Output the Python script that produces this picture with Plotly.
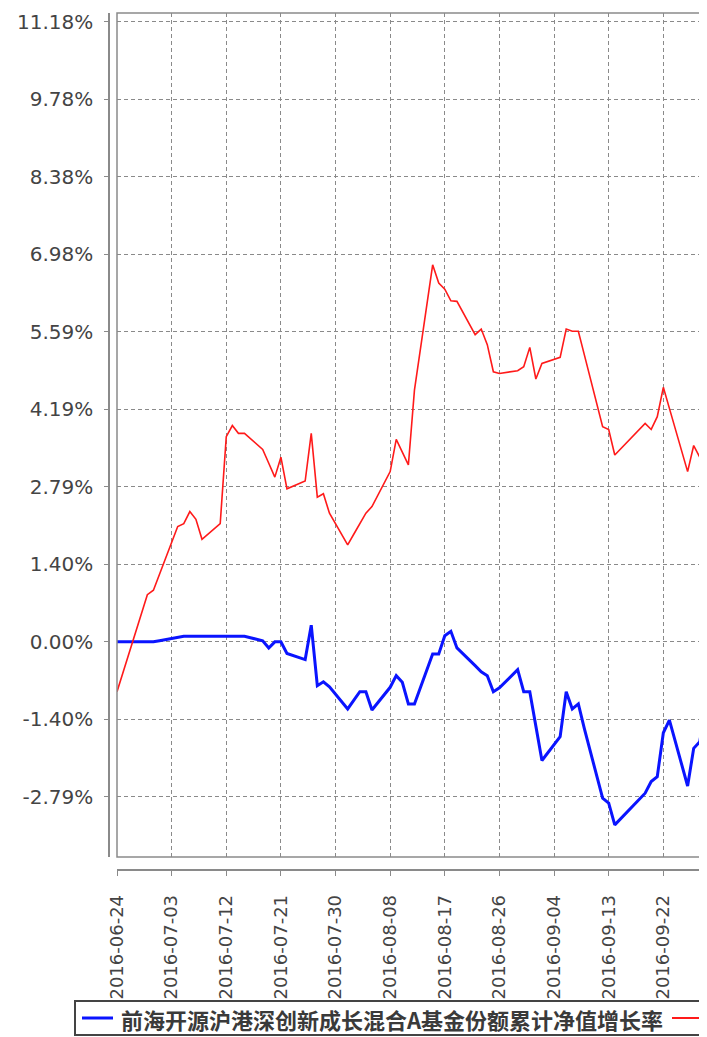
import plotly.graph_objects as go

# ---------------- data ----------------
dates = [
    "2016-06-24", "2016-06-27", "2016-06-28", "2016-06-29", "2016-06-30", "2016-07-01",
    "2016-07-04", "2016-07-05", "2016-07-06", "2016-07-07", "2016-07-08",
    "2016-07-11", "2016-07-12", "2016-07-13", "2016-07-14", "2016-07-15",
    "2016-07-18", "2016-07-19", "2016-07-20", "2016-07-21", "2016-07-22",
    "2016-07-25", "2016-07-26", "2016-07-27", "2016-07-28", "2016-07-29",
    "2016-08-01", "2016-08-02", "2016-08-03", "2016-08-04", "2016-08-05",
    "2016-08-08", "2016-08-09", "2016-08-10", "2016-08-11", "2016-08-12",
    "2016-08-15", "2016-08-16", "2016-08-17", "2016-08-18", "2016-08-19",
    "2016-08-22", "2016-08-23", "2016-08-24", "2016-08-25", "2016-08-26",
    "2016-08-29", "2016-08-30", "2016-08-31", "2016-09-01", "2016-09-02",
    "2016-09-05", "2016-09-06", "2016-09-07", "2016-09-08", "2016-09-09",
    "2016-09-12", "2016-09-13", "2016-09-14",
    "2016-09-19", "2016-09-20", "2016-09-21", "2016-09-22", "2016-09-23",
    "2016-09-26", "2016-09-27", "2016-09-28", "2016-09-29",
]

fund_growth = [
    0.00, 0.00, 0.00, 0.00, 0.00, 0.02,
    0.09, 0.10, 0.10, 0.10, 0.10,
    0.10, 0.10, 0.10, 0.10, 0.10,
    0.02, -0.11, 0.00, 0.00, -0.21,
    -0.32, 0.30, -0.79, -0.72, -0.81,
    -1.21, -1.06, -0.90, -0.90, -1.23,
    -0.82, -0.61, -0.73, -1.12, -1.12,
    -0.22, -0.22, 0.11, 0.19, -0.11,
    -0.43, -0.54, -0.61, -0.90, -0.83,
    -0.50, -0.90, -0.90, -1.52, -2.14,
    -1.71, -0.90, -1.21, -1.12, -1.57,
    -2.82, -2.91, -3.30,
    -2.73, -2.52, -2.43, -1.64, -1.41,
    -2.60, -1.92, -1.80, -1.12,
]

benchmark_growth = [
    -0.90, 0.15, 0.50, 0.85, 0.93, 1.21,
    2.08, 2.13, 2.35, 2.21, 1.85,
    2.13, 3.70, 3.90, 3.76, 3.76,
    3.47, 3.22, 2.97, 3.33, 2.76,
    2.90, 3.76, 2.61, 2.67, 2.32,
    1.75, 1.94, 2.13, 2.32, 2.44,
    3.07, 3.65, 3.42, 3.19, 4.54,
    6.80, 6.47, 6.36, 6.15, 6.14,
    5.54, 5.64, 5.36, 4.87, 4.84,
    4.89, 4.96, 5.31, 4.74, 5.02,
    5.13, 5.64, 5.60, 5.60, 5.17,
    3.88, 3.83, 3.37,
    3.94, 3.83, 4.06, 4.59, 4.21,
    3.07, 3.54, 3.33, 3.64,
]

fund_name = "前海开源沪港深创新成长混合A基金份额累计净值增长率"
benchmark_name = "同期业绩比较基准收益率"

x_tick_vals = ["2016-06-24", "2016-07-03", "2016-07-12", "2016-07-21", "2016-07-30",
               "2016-08-08", "2016-08-17", "2016-08-26", "2016-09-04", "2016-09-13",
               "2016-09-22"]
x_tick_text = x_tick_vals

y_tick_vals = [-2.795, -1.3975, 0.0, 1.3975, 2.795, 4.1925, 5.59, 6.9875, 8.385, 9.7825, 11.18]
y_tick_text = ["-2.79%", "-1.40%", "0.00%", "1.40%", "2.79%", "4.19%", "5.59%",
               "6.98%", "8.38%", "9.78%", "11.18%"]

# ---------------- layout geometry ----------------
# the page body adds an 8px margin, and the figure can be at most 691px wide,
# so reference pixel positions are shifted by OFF
OFF = 8
W, H = 707 - 2 * OFF, 1037 - OFF
ML = 109 - OFF
MR = 0
MT = 13 - OFF
MB = H - (870 - OFF)
PW, PH = W - ML - MR, H - MT - MB


def px2x(px):
    return (px - OFF - ML) / PW


def px2y(py):
    return (H - MB - (py - OFF)) / PH


GRID = "#8a8a8a"
AXIS = "#8a8a8a"

fig = go.Figure()
fig.add_trace(go.Scatter(x=dates, y=fund_growth, mode="lines", name=fund_name,
                         line=dict(color="#0a14ff", width=3)))
fig.add_trace(go.Scatter(x=dates, y=benchmark_growth, mode="lines", name=benchmark_name,
                         line=dict(color="#ff1a1a", width=1.6)))

fig.update_layout(
    width=W, height=H,
    margin=dict(l=ML, r=MR, t=MT, b=MB, pad=0),
    paper_bgcolor="white", plot_bgcolor="white",
    showlegend=False,
    xaxis=dict(
        type="date", domain=[px2x(117), 1], anchor="free", position=0,
        range=["2016-06-24 00:00", "2016-09-27 21:00"],
        tickmode="array", tickvals=x_tick_vals, ticktext=x_tick_text,
        tickangle=-90,
        tickfont=dict(family="DejaVu Sans, sans-serif", size=18, color="#444444"),
        showgrid=True, gridcolor=GRID, griddash="4px,3px", gridwidth=1,
        showline=True, linecolor=AXIS, linewidth=1.5,
        ticks="outside", ticklen=5, tickcolor=AXIS, tickwidth=1,
        ticklabelstandoff=12, zeroline=False,
    ),
    yaxis=dict(
        domain=[px2y(857), 1], anchor="free", position=0,
        range=[-3.88, 11.34],
        tickmode="array", tickvals=y_tick_vals, ticktext=y_tick_text,
        tickfont=dict(family="DejaVu Sans, sans-serif", size=20, color="#444444"),
        showgrid=True, gridcolor=GRID, griddash="4px,3px", gridwidth=1,
        showline=True, linecolor=AXIS, linewidth=1.5,
        ticks="outside", ticklen=4, tickcolor=AXIS, tickwidth=1,
        ticklabelstandoff=7, zeroline=False,
    ),
)

# plot border
fig.add_shape(type="rect", xref="x domain", yref="y domain", x0=0, x1=1.01, y0=0, y1=1,
              line=dict(color=AXIS, width=1.5), layer="above")

# manual legend (box partly outside the visible page like the reference)
LY = 1018
fig.add_shape(type="rect", xref="paper", yref="paper",
              x0=px2x(75), x1=px2x(760), y0=px2y(1035), y1=px2y(1001),
              line=dict(color="#444444", width=2), fillcolor="white")
fig.add_shape(type="line", xref="paper", yref="paper",
              x0=px2x(82), x1=px2x(113), y0=px2y(LY), y1=px2y(LY),
              line=dict(color="#0a14ff", width=3))
fig.add_annotation(xref="paper", yref="paper", x=px2x(119), y=px2y(LY + 1),
                   xanchor="left", yanchor="middle", showarrow=False,
                   text=fund_name,
                   font=dict(family="Noto Sans CJK SC", size=22, color="#3a3a3a", weight="bold"))
fig.add_shape(type="line", xref="paper", yref="paper",
              x0=px2x(672), x1=px2x(700), y0=px2y(LY), y1=px2y(LY),
              line=dict(color="#ff1a1a", width=2))

fig.write_html("out.html")
